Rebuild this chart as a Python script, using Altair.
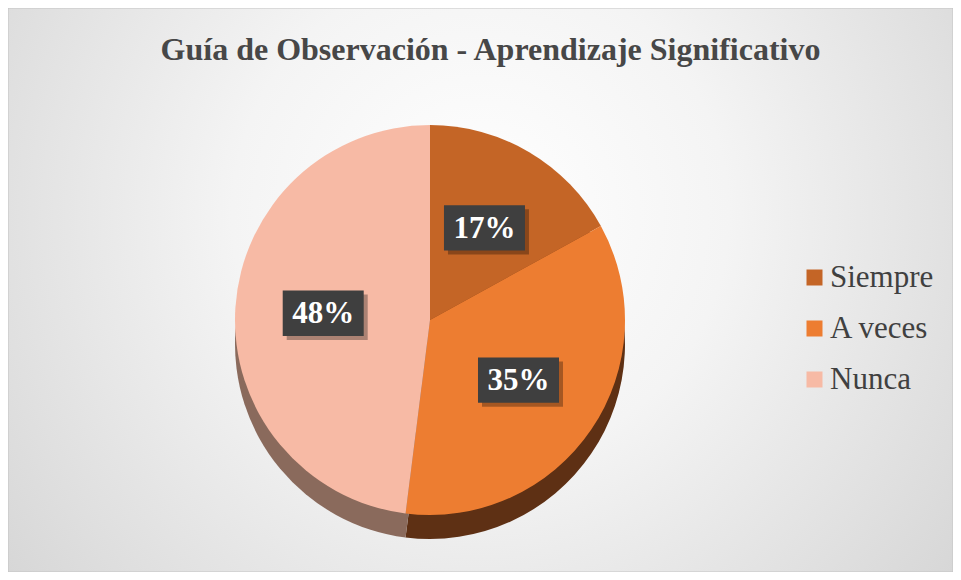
import altair as alt
import pandas as pd

# ---- data ----
categories = ["Siempre", "A veces", "Nunca"]
values = [17, 35, 48]
labels = ["17%", "35%", "48%"]
order = [0, 1, 2]

# ---- styles ----
colors = ["#c46526", "#ed7d31", "#f7baa5"]
side_colors = ["#6e3612", "#5e3014", "#8a6a5c"]
SERIF = "Liberation Serif"

W, H = 945, 564
CX, CY, R = 422, 312, 195
DEPTH = 24
LR = 107

df = pd.DataFrame({"cat": categories, "val": values, "lab": labels, "ord": order})

# background with radial gradient
bg = alt.Chart(pd.DataFrame({"a": [0]})).mark_rect(
    fill=alt.Gradient(
        gradient="radial",
        x1=0.5, y1=0.42, r1=0,
        x2=0.5, y2=0.42, r2=0.75,
        stops=[alt.GradientStop(color="#ffffff", offset=0),
               alt.GradientStop(color="#f4f4f4", offset=0.35),
               alt.GradientStop(color="#cdcdcd", offset=1)],
    ),
    stroke="#c4c4c4",
    strokeWidth=1,
).encode(x=alt.value(0), x2=alt.value(W), y=alt.value(0), y2=alt.value(H))

base = alt.Chart(df)

side = base.mark_arc(radius=R).encode(
    theta=alt.Theta("val:Q", stack=True),
    order=alt.Order("ord:Q"),
    color=alt.Color("cat:N", scale=alt.Scale(domain=categories, range=side_colors), legend=None),
    x=alt.value(CX),
    y=alt.value(CY + DEPTH),
)

top = base.mark_arc(radius=R).encode(
    theta=alt.Theta("val:Q", stack=True),
    order=alt.Order("ord:Q"),
    color=alt.Color(
        "cat:N",
        scale=alt.Scale(domain=categories, range=colors),
        sort=categories,
        legend=alt.Legend(
            title=None, orient="none", legendX=791, legendY=254,
            symbolType="square", symbolSize=256, symbolStrokeWidth=0,
            labelFont=SERIF, labelFontSize=31, labelColor="#404040",
            rowPadding=19, labelOffset=0, padding=0,
        ),
    ),
    x=alt.value(CX),
    y=alt.value(CY),
)

lab_base = base.transform_joinaggregate(total="sum(val)").transform_window(
    cum="sum(val)", sort=[alt.SortField("ord")], frame=[None, 0]
).transform_calculate(
    mid="(datum.cum - datum.val / 2) / datum.total * 2 * PI",
    lx=f"{CX} + {LR} * sin(datum.mid)",
    ly=f"{CY} - {LR} * cos(datum.mid)",
)

xs = alt.X("lx:Q", scale=alt.Scale(domain=[0, W], range=[0, W], nice=False, zero=False), axis=None)
ys = alt.Y("ly:Q", scale=alt.Scale(domain=[0, H], range=[0, H], nice=False, zero=False), axis=None)

box_path = "M-1,-0.56H1V0.56H-1Z"
shadow = lab_base.mark_point(
    shape=box_path, size=6561, filled=True, color="#000000", opacity=0.3,
    strokeWidth=0, xOffset=4, yOffset=4,
).encode(x=xs, y=ys)
box = lab_base.mark_point(
    shape=box_path, size=6561, filled=True, color="#3f3f3f", opacity=1, strokeWidth=0,
).encode(x=xs, y=ys)
txt = lab_base.mark_text(
    font=SERIF, fontSize=31, fontWeight="bold", color="white",
    align="center", baseline="middle", dy=1,
).encode(x=xs, y=ys, text="lab:N")

chart = alt.layer(bg, side, top, shadow, box, txt).resolve_scale(
    color="independent"
).properties(
    width=W, height=H,
    autosize=alt.AutoSizeParams(type="none"),
    padding=0,
    title=alt.TitleParams(
        text="Guía de Observación - Aprendizaje Significativo",
        font=SERIF, fontSize=32, fontWeight="bold", color="#474747",
        anchor="middle", orient="top", offset=-54, baseline="alphabetic", dx=10, dy=30,
    ),
).configure_view(stroke=None)

chart.save("out.html", embed_options={"renderer": "svg", "actions": False})
